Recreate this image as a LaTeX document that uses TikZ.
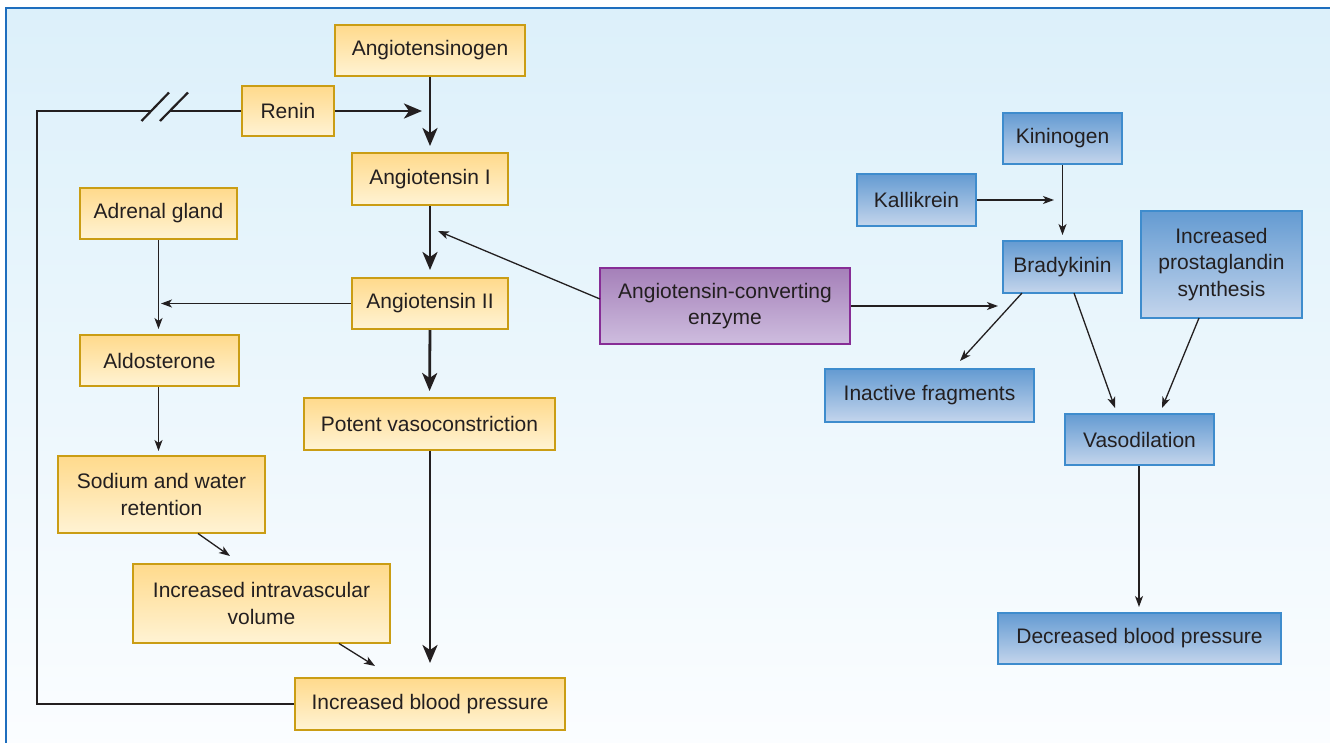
\documentclass[tikz,border=0pt]{standalone}
\usepackage{fontspec}
\setmainfont{Liberation Sans}
\usetikzlibrary{arrows.meta,calc}
\definecolor{txt}{RGB}{35,31,32}
\definecolor{bgtop}{RGB}{220,240,250}
\definecolor{bgbot}{RGB}{251,253,255}
\definecolor{frame}{RGB}{30,110,190}
\definecolor{ytop}{RGB}{255,218,140}
\definecolor{ybot}{RGB}{255,243,212}
\definecolor{yline}{RGB}{202,157,20}
\definecolor{btop}{RGB}{100,155,210}
\definecolor{bbot}{RGB}{196,213,236}
\definecolor{bline}{RGB}{62,140,205}
\definecolor{ptop}{RGB}{165,128,185}
\definecolor{pbot}{RGB}{206,189,223}
\definecolor{pline}{RGB}{135,45,150}
\definecolor{arr}{RGB}{35,31,32}
\tikzset{
  box/.style={draw, line width=2pt, inner sep=0pt, align=center, text=txt,
    font=\fontsize{21}{26.5}\selectfont},
  ybox/.style={box, draw=yline, top color=ytop, bottom color=ybot},
  bbox/.style={box, draw=bline, top color=btop, bottom color=bbot},
  pbox/.style={box, draw=pline, top color=ptop, bottom color=pbot},
  thickarr/.style={draw=arr, line width=2.8pt, -{Stealth[length=18pt,width=15pt,inset=5pt]}},
  thinarr/.style={draw=arr, line width=1.3pt, -{Stealth[length=11pt,width=8pt,inset=3pt]}},
  loopline/.style={draw=arr, line width=2.5pt},
}
\begin{document}
\begin{tikzpicture}[x=1pt,y=-1pt]
\useasboundingbox (0,0) rectangle (1330,742);
\fill[white] (0,0) rectangle (1330,742);
\shade[top color=bgtop, bottom color=bgbot] (6,8) rectangle (1340,750);
\draw[frame, line width=2.5pt] (6,750) -- (6,8) -- (1340,8);

% left (renin-angiotensin) boxes
\node[ybox, minimum width=190pt, minimum height=51pt] (ango) at (430,50.5) {Angiotensinogen};
\node[ybox, minimum width=92pt, minimum height=50pt] (renin) at (288,111) {Renin};
\node[ybox, minimum width=156pt, minimum height=52pt] (ang1) at (430,179) {Angiotensin I};
\node[ybox, minimum width=157pt, minimum height=51pt] (adrenal) at (158.5,213.5) {Adrenal gland};
\node[ybox, minimum width=156pt, minimum height=51pt] (ang2) at (430,303.5) {Angiotensin II};
\node[ybox, minimum width=159pt, minimum height=51pt] (aldo) at (159.5,360.5) {Aldosterone};
\node[ybox, minimum width=251pt, minimum height=52pt] (potent) at (429.5,424) {Potent vasoconstriction};
\node[ybox, minimum width=207pt, minimum height=77pt] (sodium) at (161.5,494.5) {Sodium and water\\retention};
\node[ybox, minimum width=257pt, minimum height=79pt] (intra) at (261.5,603.5) {Increased intravascular\\volume};
\node[ybox, minimum width=270pt, minimum height=52pt] (ibp) at (430,704) {Increased blood pressure};

% ACE
\node[pbox, minimum width=250pt, minimum height=76pt] (ace) at (725,306) {Angiotensin-converting\\enzyme};

% right (kinin) boxes
\node[bbox, minimum width=119pt, minimum height=51pt] (kino) at (1062.5,138.5) {Kininogen};
\node[bbox, minimum width=119pt, minimum height=52pt] (kalli) at (916.5,200) {Kallikrein};
\node[bbox, minimum width=119pt, minimum height=52pt] (brady) at (1062.5,267) {Bradykinin};
\node[bbox, minimum width=161pt, minimum height=107pt] (prosta) at (1221.5,264.5) {Increased\\prostaglandin\\synthesis};
\node[bbox, minimum width=209pt, minimum height=53pt] (inact) at (929.5,395.5) {Inactive fragments};
\node[bbox, minimum width=149pt, minimum height=51pt] (vaso) at (1139.5,439.5) {Vasodilation};
\node[bbox, minimum width=283pt, minimum height=51pt] (dbp) at (1139.5,638.5) {Decreased blood pressure};

% feedback loop with break
\coordinate (loopBL) at (37,704);
\coordinate (loopTL) at (37,111);
\coordinate (brkA) at (152,111);
\coordinate (brkB) at (169,111);
\draw[loopline] (ibp.west) -- (loopBL) -- (loopTL) -- (brkA);
\draw[loopline] (brkB) -- (renin.west);
\draw[draw=arr, line width=2.2pt] (141.5,121) -- (169,92.5);
\draw[draw=arr, line width=2.2pt] (160,121) -- (188,92.5);
\coordinate (reninTip) at (422,111);
\draw[thickarr] (renin.east) -- (reninTip);

% main thick chain
\draw[thickarr, shorten >=6pt] (ango.south) -- (ang1.north);
\draw[thickarr, shorten >=7pt] (ang1.south) -- (ang2.north);
\draw[thickarr, shorten >=6pt] (ang2.south) -- (potent.north);
\coordinate (ibpTip) at (430,663);
\draw[thickarr] (potent.south -| ibpTip) -- (ibpTip);

% aldosterone branch
\coordinate (ang2Tip) at (161,303.5);
\draw[thinarr] (ang2.west) -- (ang2Tip);
\draw[thinarr, shorten >=5pt] (adrenal.south) -- (adrenal.south |- aldo.north);
\draw[thinarr, shorten >=4pt] (aldo.south -| adrenal.south) -- (adrenal.south |- sodium.north);
\coordinate (sodOut) at (198,533.5);
\coordinate (intraIn) at (230,556);
\draw[thinarr] (sodOut) -- (intraIn);
\coordinate (intraOut) at (339,643.5);
\coordinate (ibpIn) at (375,666);
\draw[thinarr] (intraOut) -- (ibpIn);

% ACE arrows
\coordinate (aceL) at (600,299);
\coordinate (ang1Tip) at (438,231);
\draw[thinarr] (aceL) -- (ang1Tip);
\coordinate (bradyTipL) at (998,306);
\draw[thinarr] (ace.east) -- (bradyTipL);

% kinin arrows
\draw[thinarr, shorten >=5pt] (kino.south) -- (brady.north);
\coordinate (kalTip) at (1054,200);
\draw[thinarr] (kalli.east) -- (kalTip);
\coordinate (bradyA) at (1022,293);
\coordinate (inactTip) at (960,361);
\draw[thinarr] (bradyA) -- (inactTip);
\coordinate (bradyB) at (1074,293);
\coordinate (vasoTipA) at (1115,408);
\draw[thinarr] (bradyB) -- (vasoTipA);
\coordinate (prostaOut) at (1199,318);
\coordinate (vasoTipB) at (1162,408);
\draw[thinarr] (prostaOut) -- (vasoTipB);
\coordinate (dbpTip) at (1139,607);
\draw[thinarr] (vaso.south -| dbpTip) -- (dbpTip);
\end{tikzpicture}
\end{document}
